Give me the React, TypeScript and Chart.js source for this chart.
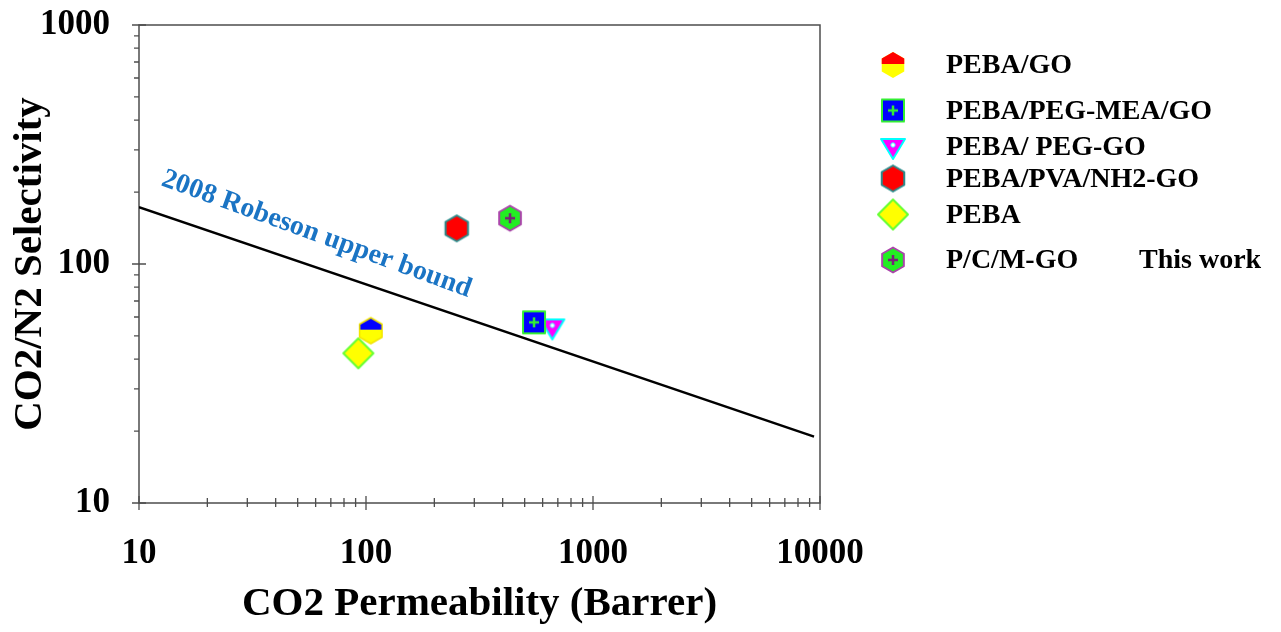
import React, { useEffect, useRef } from 'react';
import { Chart, registerables } from 'chart.js';

Chart.register(...registerables);

// ---- data ----
const seriesLabels = ['PEBA/GO', 'PEBA/PEG-MEA/GO', 'PEBA/ PEG-GO', 'PEBA/PVA/NH2-GO', 'PEBA', 'P/C/M-GO'];
const permeability = [105, 550, 662, 251, 92.5, 431];
const selectivity = [52.6, 57, 54.3, 141, 42.3, 155.4];
const robesonX = [10, 9415];
const robesonY = [173, 18.95];
const robesonLabel = '2008 Robeson upper bound';
const thisWorkLabel = 'This work';
const xTickValues = [10, 100, 1000, 10000];
const yTickValues = [10, 100, 1000];
const minorMultipliers = [2, 3, 4, 5, 6, 7, 8, 9];
const xTitle = 'CO2 Permeability (Barrer)';
const yTitle = 'CO2/N2 Selectivity';

const SERIF = "'Liberation Serif', 'Times New Roman', serif";

type Kind = 'hexHalfPlot' | 'hexHalfLegend' | 'square' | 'triangle' | 'hexRed' | 'diamond' | 'hexGreen';

function hexPath(c: CanvasRenderingContext2D, cx: number, cy: number, r: number) {
  c.beginPath();
  for (let i = 0; i < 6; i++) {
    const a = (-90 + i * 60) * Math.PI / 180;
    const px = cx + r * Math.cos(a);
    const py = cy + r * Math.sin(a);
    if (i === 0) c.moveTo(px, py); else c.lineTo(px, py);
  }
  c.closePath();
}

function makeMarker(kind: Kind): HTMLCanvasElement {
  const S = 34;
  const cv = document.createElement('canvas');
  cv.width = S; cv.height = S;
  const c = cv.getContext('2d')!;
  const m = S / 2;
  c.lineJoin = 'round';
  if (kind === 'hexHalfPlot' || kind === 'hexHalfLegend') {
    const r = 13;
    hexPath(c, m, m, r);
    c.fillStyle = '#ffff00';
    c.fill();
    c.save();
    hexPath(c, m, m, r);
    c.clip();
    c.fillStyle = kind === 'hexHalfPlot' ? '#0000ff' : '#ff0000';
    c.fillRect(0, 0, S, m - 1);
    c.restore();
    if (kind === 'hexHalfPlot') {
      hexPath(c, m, m, r);
      c.strokeStyle = '#f2e400';
      c.lineWidth = 1.5;
      c.stroke();
    }
  } else if (kind === 'square') {
    const h = 11;
    c.fillStyle = '#0000ff';
    c.fillRect(m - h, m - h, 2 * h, 2 * h);
    c.strokeStyle = '#33ee33';
    c.lineWidth = 2;
    c.strokeRect(m - h, m - h, 2 * h, 2 * h);
    c.beginPath();
    c.moveTo(m - 5, m); c.lineTo(m + 5, m);
    c.moveTo(m, m - 5); c.lineTo(m, m + 5);
    c.lineWidth = 2.5;
    c.stroke();
  } else if (kind === 'triangle') {
    c.beginPath();
    c.moveTo(m - 12, m - 8);
    c.lineTo(m + 12, m - 8);
    c.lineTo(m, m + 12);
    c.closePath();
    c.fillStyle = '#ff00ff';
    c.fill();
    c.strokeStyle = '#00ffff';
    c.lineWidth = 2;
    c.stroke();
    c.beginPath();
    c.arc(m, m - 2, 2.2, 0, Math.PI * 2);
    c.fillStyle = '#ffffff';
    c.fill();
    c.strokeStyle = '#44eeff';
    c.lineWidth = 1;
    c.stroke();
  } else if (kind === 'hexRed') {
    hexPath(c, m, m, 13);
    c.fillStyle = '#ff0000';
    c.fill();
    c.strokeStyle = '#2a8c8c';
    c.lineWidth = 2;
    c.stroke();
  } else if (kind === 'diamond') {
    const r = 15;
    c.beginPath();
    c.moveTo(m, m - r); c.lineTo(m + r, m); c.lineTo(m, m + r); c.lineTo(m - r, m);
    c.closePath();
    c.fillStyle = '#ffff00';
    c.fill();
    c.strokeStyle = '#66ff33';
    c.lineWidth = 2;
    c.stroke();
  } else if (kind === 'hexGreen') {
    hexPath(c, m, m, 12.5);
    c.fillStyle = '#22ee22';
    c.fill();
    c.strokeStyle = '#aa44aa';
    c.lineWidth = 2;
    c.stroke();
    c.beginPath();
    c.moveTo(m - 5, m); c.lineTo(m + 5, m);
    c.moveTo(m, m - 5); c.lineTo(m, m + 5);
    c.strokeStyle = '#7a1f7a';
    c.lineWidth = 2.5;
    c.stroke();
  }
  return cv;
}

const plotKinds: Kind[] = ['hexHalfPlot', 'square', 'triangle', 'hexRed', 'diamond', 'hexGreen'];
const legendKinds: Kind[] = ['hexHalfLegend', 'square', 'triangle', 'hexRed', 'diamond', 'hexGreen'];

export default function App() {
  const ref = useRef<HTMLCanvasElement | null>(null);

  useEffect(() => {
    if (!ref.current) return;
    const plotImgs = plotKinds.map(makeMarker);
    const legendImgs = legendKinds.map(makeMarker);

    const framePlugin = {
      id: 'frameTicks',
      beforeDatasetsDraw(chart: any) {
        const { ctx, chartArea: a, scales } = chart;
        const xs = scales.x, ys = scales.y;
        ctx.save();
        ctx.strokeStyle = '#4d4d4d';
        ctx.lineWidth = 1.5;
        ctx.strokeRect(a.left, a.top, a.right - a.left, a.bottom - a.top);
        ctx.beginPath();
        xTickValues.forEach((d, i) => {
          const px = xs.getPixelForValue(d);
          ctx.moveTo(px, a.bottom - 7); ctx.lineTo(px, a.bottom + 7);
          if (i < xTickValues.length - 1) {
            minorMultipliers.forEach((k) => {
              const mx = xs.getPixelForValue(d * k);
              ctx.moveTo(mx, a.bottom - 5); ctx.lineTo(mx, a.bottom + 4);
            });
          }
        });
        yTickValues.forEach((d, i) => {
          const py = ys.getPixelForValue(d);
          ctx.moveTo(a.left - 7, py); ctx.lineTo(a.left + 7, py);
          if (i < yTickValues.length - 1) {
            minorMultipliers.forEach((k) => {
              const my = ys.getPixelForValue(d * k);
              ctx.moveTo(a.left - 5, my); ctx.lineTo(a.left, my);
            });
          }
        });
        ctx.lineWidth = 1.3;
        ctx.stroke();
        ctx.restore();
      },
      afterDatasetsDraw(chart: any) {
        const { ctx, scales } = chart;
        // Robeson label
        const px = scales.x.getPixelForValue(12.4);
        const py = scales.y.getPixelForValue(214);
        ctx.save();
        ctx.translate(px, py);
        ctx.rotate(20 * Math.PI / 180);
        ctx.font = `bold 28px ${SERIF}`;
        ctx.fillStyle = '#1a74c4';
        ctx.textAlign = 'left';
        ctx.textBaseline = 'alphabetic';
        ctx.fillText(robesonLabel, 0, 0);
        ctx.restore();

        // legend
        const rowsY = [65, 110.5, 147, 178.5, 214.5, 260];
        ctx.save();
        ctx.font = `bold 28px ${SERIF}`;
        ctx.fillStyle = '#000000';
        ctx.textAlign = 'left';
        ctx.textBaseline = 'middle';
        seriesLabels.forEach((lab, i) => {
          const img = legendImgs[i];
          ctx.drawImage(img, 893 - img.width / 2, rowsY[i] - img.height / 2);
          ctx.fillText(lab, 946, rowsY[i] + 1);
        });
        ctx.fillText(thisWorkLabel, 1139, rowsY[5] + 1);
        ctx.restore();
      },
    };

    const scatterSets = seriesLabels.map((lab, i) => ({
      type: 'scatter' as const,
      label: lab,
      data: [{ x: permeability[i], y: selectivity[i] }],
      pointStyle: plotImgs[i],
      pointRadius: 12,
      pointHoverRadius: 12,
      showLine: false,
    }));

    const chart = new Chart(ref.current, {
      type: 'scatter',
      data: {
        datasets: [
          {
            type: 'line' as const,
            label: 'Robeson 2008',
            data: robesonX.map((x, i) => ({ x, y: robesonY[i] })),
            borderColor: '#000000',
            borderWidth: 2.5,
            pointRadius: 0,
            showLine: true,
            fill: false,
          } as any,
          ...scatterSets,
        ],
      },
      options: {
        animation: false,
        responsive: false,
        events: [],
        layout: { padding: { top: 25, right: 461, left: 0, bottom: 0 } },
        plugins: {
          legend: { display: false },
          tooltip: { enabled: false },
        },
        scales: {
          x: {
            type: 'logarithmic',
            min: 10,
            max: 10000,
            grid: { display: false },
            border: { display: false },
            afterBuildTicks: (s: any) => { s.ticks = xTickValues.map((v) => ({ value: v })); },
            afterFit: (s: any) => { s.height = 129; s.paddingLeft = 0; s.paddingRight = 0; },
            ticks: {
              autoSkip: false,
              maxRotation: 0,
              padding: 22,
              color: '#000000',
              font: { family: SERIF, size: 35, weight: 'bold' },
              callback: (v: any) => String(v),
            },
            title: {
              display: true,
              text: xTitle,
              color: '#000000',
              font: { family: SERIF, size: 41, weight: 'bold' },
              padding: { top: 0, bottom: 3 },
            },
          },
          y: {
            type: 'logarithmic',
            min: 10,
            max: 1000,
            grid: { display: false },
            border: { display: false },
            afterBuildTicks: (s: any) => { s.ticks = yTickValues.map((v) => ({ value: v })); },
            afterFit: (s: any) => { s.width = 139; s.paddingTop = 0; s.paddingBottom = 0; },
            ticks: {
              autoSkip: false,
              padding: 21,
              color: '#000000',
              font: { family: SERIF, size: 35, weight: 'bold' },
              callback: (v: any) => String(v),
            },
            title: {
              display: true,
              text: yTitle,
              color: '#000000',
              font: { family: SERIF, size: 41, weight: 'bold' },
              padding: { top: 6, bottom: 0 },
            },
          },
        },
      } as any,
      plugins: [framePlugin as any],
    });
    return () => chart.destroy();
  }, []);

  return (
    <div style={{ position: 'absolute', left: 0, top: 0, width: 1281, height: 632, background: '#ffffff' }}>
      <canvas ref={ref} width={1281} height={632} style={{ width: 1281, height: 632, display: 'block' }} />
    </div>
  );
}
